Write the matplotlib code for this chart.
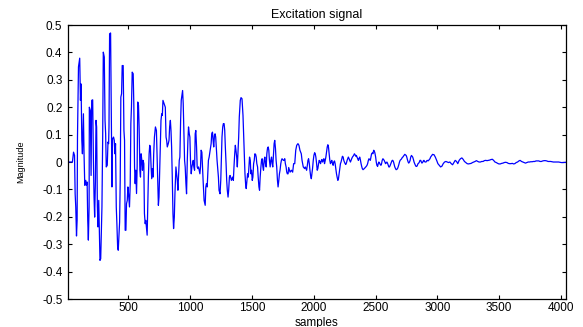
import matplotlib
matplotlib.use("Agg")
import matplotlib.pyplot as plt
import numpy as np

# points (sample index, magnitude)
samples = [
    1, 46, 55, 63, 68, 73, 79, 84, 87, 95, 105, 111, 116, 122, 127, 135, 140,
    146, 154, 159, 165, 170, 175, 181, 183, 191, 197, 202, 210, 216, 221, 226,
    232, 237, 242, 248, 253, 259, 264, 269, 275, 280, 285, 291, 296, 304, 310,
    315, 320, 328, 334, 339, 342, 347, 355, 361, 366, 371, 379, 385, 390, 395,
    401, 406, 412, 417, 422, 428, 433, 438, 444, 449, 457, 463, 468, 473, 479,
    484, 490, 495, 500, 508, 514, 519, 524, 530, 538, 543, 549, 554, 559, 565,
    570, 575, 581, 586, 592, 597, 602, 608, 613, 618, 624, 629, 635, 640, 645,
    651, 656, 661, 667, 672, 677, 683, 688, 694, 699, 704, 710, 718, 726, 731,
    737, 742, 747, 753, 758, 763, 769, 774, 779, 788,
    798, 804, 809, 814, 822, 828, 833, 839, 844, 849, 855, 860, 865, 871, 876,
    884, 890, 895, 900, 906, 911, 916, 922, 927, 938, 943, 949, 954, 959, 965,
    970, 976, 981, 986, 992, 997, 1002, 1008, 1013, 1019, 1024, 1029, 1035,
    1040, 1045, 1051, 1056, 1061, 1067, 1072, 1078, 1083, 1088, 1094, 1099,
    1104, 1112, 1121, 1126, 1131, 1137, 1142, 1147, 1153, 1161, 1169, 1174,
    1180, 1185, 1190, 1196, 1201, 1206, 1212, 1217, 1223, 1228, 1233, 1241,
    1247, 1252, 1257, 1263, 1268, 1274, 1279, 1284, 1290, 1295, 1300, 1306,
    1311, 1317, 1322, 1327, 1333, 1338, 1343, 1349, 1354, 1360, 1365, 1370,
    1376, 1381, 1386, 1392, 1397, 1405, 1411, 1419, 1427, 1432, 1437, 1443,
    1448, 1453, 1459, 1464, 1470, 1475, 1480, 1486, 1491, 1496, 1502, 1507,
    1513, 1518, 1523, 1529, 1534, 1539, 1545, 1550, 1556, 1561, 1566, 1572,
    1577, 1582, 1588, 1593, 1598, 1604, 1609, 1615, 1620, 1625, 1631, 1636,
    1641, 1647, 1652, 1658, 1663, 1668, 1674, 1679, 1684, 1690, 1695, 1700,
    1706, 1711, 1717, 1722, 1727, 1733, 1738, 1743, 1749, 1754, 1760, 1765,
    1770, 1776, 1781, 1786, 1792, 1797, 1808, 1819, 1829, 1837,
    1846, 1854, 1862, 1872, 1880, 1888, 1894, 1899, 1905, 1915, 1926, 1931,
    1937, 1942, 1948, 1953, 1958, 1964, 1969, 1974, 1980, 1985, 1990, 1996,
    2001, 2007, 2012, 2017, 2023, 2028, 2033, 2039, 2044, 2050, 2055, 2060,
    2066, 2071, 2076, 2082, 2087, 2093, 2098, 2103, 2109, 2114, 2119, 2125,
    2130, 2135, 2141, 2146, 2152, 2157, 2162, 2168, 2173, 2178, 2184, 2189,
    2195, 2200, 2205, 2211, 2216, 2221, 2227, 2232, 2238, 2243, 2248, 2254,
    2259, 2264, 2270, 2275, 2280, 2286, 2291, 2297, 2302, 2307, 2313, 2318,
    2323, 2329, 2334, 2340, 2345, 2350, 2356, 2361, 2366, 2372, 2377, 2383,
    2388, 2393, 2399, 2404, 2409, 2415, 2420, 2425, 2431, 2436, 2442, 2447,
    2452, 2458, 2463, 2468, 2474, 2479, 2485, 2490, 2495, 2501, 2506, 2511,
    2517, 2522, 2527, 2533, 2538, 2544, 2549, 2554, 2560, 2565, 2570, 2576,
    2581, 2586, 2592, 2597, 2603, 2608, 2613, 2619, 2624, 2629, 2635, 2640,
    2646, 2651, 2656, 2662, 2667, 2672, 2678, 2683, 2689, 2694, 2699, 2705,
    2710, 2716, 2721, 2726, 2732, 2737, 2742, 2748, 2753, 2758, 2764, 2769,
    2775, 2780, 2785, 2791, 2796, 2801, 2807, 2812, 2817, 2823, 2828, 2834,
    2839, 2844, 2850, 2855, 2860, 2866, 2871, 2876, 2882, 2887, 2892, 2898,
    2903, 2909, 2914, 2919, 2925, 2930, 2935, 2941, 2946, 2951, 2957, 2962,
    2967, 2973, 2984, 2995, 3005, 3016, 3027, 3038, 3048, 3059, 3070, 3081,
    3091, 3102, 3113, 3124, 3134, 3145, 3156, 3166, 3177, 3188, 3199, 3209,
    3220, 3231, 3242, 3252, 3263, 3274, 3285, 3295, 3306, 3317, 3328, 3338,
    3349, 3360, 3371, 3381, 3392, 3403, 3414, 3424, 3435, 3446, 3456, 3467,
    3478, 3489, 3499, 3510, 3521, 3532, 3542, 3553, 3564, 3575, 3585, 3596,
    3607, 3618, 3628, 3639, 3650, 3661, 3671, 3682, 3693, 3704, 3714, 3725,
    3736, 3747, 3757, 3768, 3779, 3789, 3800, 3811, 3822, 3832, 3843, 3854,
    3865, 3875, 3886, 3897, 3908, 3918, 3929, 3940, 3951, 3961, 3972, 3983,
    3994, 4004, 4015, 4042,
]
magnitude = [
    0, 0, 0.036, 0.024, -0.116, -0.164, -0.270, -0.213, 0.091, 0.347, 0.379,
    0.225, 0.285, 0.079, 0.030, 0.176, 0.030, -0.085, -0.067, -0.085, -0.073,
    -0.213, -0.285, -0.164, 0.200, 0.188, -0.049, 0.225, 0.227, 0.006, -0.128,
    -0.201, -0.073, 0.152, 0.128, -0.164, -0.237, -0.140, -0.249, -0.359,
    -0.353, -0.261, -0.164, 0.091, 0.401, 0.383, 0.152, 0.103, -0.018, -0.012,
    0.073, 0.067, 0.128, 0.468, 0.471, 0.152, -0.091, 0.085, 0.091, 0.079,
    0.030, 0.067, -0.164, -0.225, -0.310, -0.322, -0.273, -0.219, -0.067,
    0.237, 0.249, 0.352, 0.352, 0.115, 0.079, -0.249, -0.249, -0.152, -0.140,
    -0.091, -0.115, -0.164, -0.079, 0.140, 0.201, 0.328, 0.322, 0.213, -0.018,
    -0.079, -0.030, -0.115, -0.018, 0.219, 0.207, 0.128, -0.030, -0.055, 0.030,
    0.006, -0.030, 0.006, -0.006, -0.188, -0.225, -0.213, -0.237, -0.267,
    -0.164, -0.055, 0.030, 0.061, 0.055, -0.018, -0.061, -0.024, -0.055, 0.030,
    0.091, 0.128, 0.115, 0.030, -0.067, -0.158, -0.128, -0.018, 0.079, 0.152,
    0.176, 0.170, 0.225, 0.213,
    0.200, 0.091, 0.079, 0.055, 0.067, 0.079, 0.128, 0.152, 0.115, 0.055,
    -0.067, -0.188, -0.243, -0.201, -0.116, -0.018, -0.043, -0.067, -0.103,
    -0.043, 0.006, 0.018, 0.152, 0.225, 0.261, 0.213, 0.091, 0.006, -0.018,
    -0.079, -0.116, 0.006, 0.079, 0.128, 0.103, 0.091, 0.006, -0.043, -0.018,
    -0.006, 0.006, -0.018, -0.030, 0.103, 0.115, 0.055, -0.018, -0.024, -0.018,
    -0.030, -0.043, -0.018, 0.043, 0.036, -0.018, -0.067, -0.140, -0.158,
    -0.091, -0.079, -0.091, -0.043, 0.006, 0.018, 0.043, 0.067, 0.103, 0.109,
    0.079, 0.055, 0.097, 0.103, 0.091, 0.043, 0.006, -0.030, -0.055, -0.103,
    -0.116, -0.067, 0.006, 0.091, 0.128, 0.140, 0.140, 0.116, 0.055, -0.006,
    -0.067, -0.103, -0.128, -0.103, -0.055, -0.049, -0.055, -0.067, -0.061,
    -0.055, -0.067, -0.018, 0.030, 0.061, 0.043, 0.018, -0.018, 0.030, 0.091,
    0.164, 0.225, 0.235, 0.231, 0.170, 0.103, 0.030, -0.043, -0.079, -0.097,
    -0.067, -0.043, -0.055, -0.018, 0.018, 0.006, -0.043, -0.030, -0.067,
    -0.055, -0.006, 0.006, 0.030, 0.028, 0.018, -0.006, -0.018, -0.055, -0.091,
    -0.103, -0.055, -0.018, 0.006, 0.012, -0.018, -0.030, 0.006, 0.018, -0.006,
    -0.018, 0.030, 0.049, 0.055, 0.043, 0.006, -0.018, 0.006, 0.018, -0.006,
    -0.018, 0.030, 0.067, 0.079, 0.049, 0.006, -0.018, -0.067, -0.091, -0.067,
    -0.043, -0.030, -0.006, 0.006, 0.012, 0.009, 0.006, 0.006, 0.012, -0.006,
    -0.018, -0.036, -0.043, -0.043, -0.020, -0.037, -0.030, -0.037, -0.006,
    -0.006, 0.043, 0.061, 0.067, 0.061, 0.043, 0.036, 0.030, 0.006, -0.018,
    -0.024, -0.018, -0.024, -0.030, -0.012, 0.006, 0.012, -0.006, -0.030,
    -0.049, -0.061, -0.043, -0.024, 0.006, 0.024, 0.034, 0.030, 0.018, -0.006,
    -0.030, -0.024, -0.006, 0.006, 0.000, -0.006, 0.004, 0.009, 0.000, 0.006,
    0.012, -0.006, 0.006, 0.018, 0.036, 0.055, 0.063, 0.055, 0.030, 0.006,
    -0.006, 0.000, 0.006, -0.006, -0.012, 0.000, 0.004, -0.006, -0.024, -0.043,
    -0.055, -0.067, -0.061, -0.043, -0.024, -0.006, 0.000, 0.012, 0.021, 0.018,
    0.006, 0.000, -0.006, -0.009, -0.004, 0.006, 0.012, 0.018, 0.012, 0.006,
    0.000, 0.006, 0.012, 0.018, 0.021, 0.024, 0.030, 0.027, 0.021, 0.024,
    0.018, 0.012, 0.006, 0.012, 0.018, 0.009, -0.006, -0.016, -0.024, -0.028,
    -0.026, -0.024, -0.021, -0.018, -0.016, -0.012, -0.006, 0.006, 0.012,
    0.009, 0.006, 0.018, 0.030, 0.033, 0.030, 0.043, 0.040, 0.033, 0.018,
    0.000, -0.012, -0.016, -0.006, 0.000, -0.004, -0.009, -0.012, -0.006,
    0.006, 0.012, 0.009, 0.006, 0.000, -0.006, -0.004, 0.000, -0.004, -0.012,
    -0.018, -0.018, -0.012, -0.006, 0.000, 0.006, 0.006, 0.000, -0.009,
    -0.018, -0.024, -0.028, -0.027, -0.024, -0.018, -0.009, 0.000, 0.006,
    0.009, 0.011, 0.016, 0.018, 0.021, 0.024, 0.028, 0.026, 0.024, 0.018,
    0.009, 0.000, -0.004, 0.000, 0.006, 0.018, 0.024, 0.021, 0.018, 0.009,
    0.000, -0.006, -0.012, -0.016, -0.016, -0.012, -0.006, -0.004, 0.000,
    0.006, 0.006, 0.000, -0.004, -0.001, 0.004, 0.006, 0.001, 0.000, 0.000,
    0.004, 0.006, 0.004, 0.006, 0.009, 0.012, 0.018, 0.021, 0.024, 0.028,
    0.027, 0.027, 0.018, 0.006, -0.006, -0.012, -0.018, -0.015, -0.006, 0.000,
    0.002, 0.000, -0.002, 0.000, -0.006, -0.010, -0.002, 0.006, 0.002, -0.006,
    0.006, 0.012, 0.015, 0.010, 0.002, -0.002, -0.006, -0.007, -0.006, -0.005,
    -0.002, 0.000, 0.002, 0.005, 0.002, 0.000, 0.000, 0.002, 0.002, 0.005,
    0.006, 0.005, 0.006, 0.007, 0.009, 0.010, 0.006, 0.000, -0.002, -0.005,
    -0.007, -0.007, -0.005, -0.004, -0.002, -0.001, -0.002, -0.005, -0.006,
    -0.006, -0.005, -0.007, -0.006, -0.002, 0.000, 0.004, 0.006, 0.002, 0.000,
    -0.002, -0.004, -0.002, 0.000, 0.000, 0.001, 0.001, 0.002, 0.002, 0.004,
    0.004, 0.004, 0.002, 0.002, 0.004, 0.005, 0.005, 0.004, 0.002, 0.002,
    0.002, 0.001, 0.000, 0.000, 0.000, 0.000, 0.000, -0.001, -0.002, -0.002,
    -0.001,
]

x_ticks = [500, 1000, 1500, 2000, 2500, 3000, 3500, 4000]
y_ticks = [-0.5, -0.4, -0.3, -0.2, -0.1, 0, 0.1, 0.2, 0.3, 0.4, 0.5]
y_labels = ["-0.5", "-0.4", "-0.3", "-0.2", "-0.1", "0",
            "0.1", "0.2", "0.3", "0.4", "0.5"]

plt.rcParams['font.family'] = ['Liberation Sans', 'DejaVu Sans']

fig = plt.figure(figsize=(5.83, 3.27), dpi=100)
ax = fig.add_axes([0.1166, 0.0856, 0.8542, 0.8379])

ax.plot(samples, magnitude, color=(0, 0, 1), linewidth=0.9)

ax.set_xlim(10, 4042)
ax.set_ylim(-0.5, 0.5)
ax.set_xticks(x_ticks)
ax.set_yticks(y_ticks)
ax.set_yticklabels(y_labels)
ax.tick_params(direction='in', top=True, right=True, labelsize=8.5,
               length=3, width=0.8, pad=4)
ax.tick_params(axis='x', pad=2.5)
for s in ax.spines.values():
    s.set_linewidth(0.9)

ax.set_title("Excitation signal", fontsize=9, pad=5)
ax.set_xlabel("samples", fontsize=8.5)
ax.xaxis.set_label_coords(0.5, -0.064)
ax.set_ylabel("Magnitude", fontsize=6.5, labelpad=12)

fig.savefig("out.png", dpi=100)
